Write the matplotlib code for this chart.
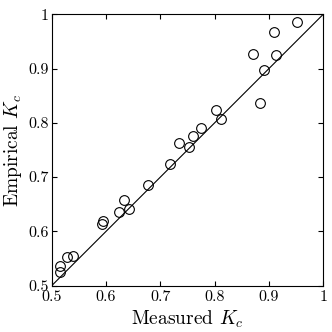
import matplotlib
matplotlib.use("Agg")
import matplotlib.pyplot as plt

measured = [0.951, 0.910, 0.871, 0.913, 0.890, 0.884, 0.803, 0.812, 0.775, 0.760,
            0.735, 0.752, 0.718, 0.678, 0.634, 0.643, 0.623, 0.595, 0.592, 0.540,
            0.528, 0.515, 0.515]
empirical = [0.986, 0.968, 0.926, 0.925, 0.897, 0.836, 0.824, 0.807, 0.790, 0.776,
             0.762, 0.756, 0.725, 0.685, 0.657, 0.641, 0.635, 0.620, 0.614, 0.555,
             0.552, 0.537, 0.526]
ticks = [0.5, 0.6, 0.7, 0.8, 0.9, 1.0]
tick_labels = ["0.5", "0.6", "0.7", "0.8", "0.9", "1"]

plt.rcParams['font.family'] = 'serif'
plt.rcParams['font.serif'] = ['cmr10']
plt.rcParams['mathtext.fontset'] = 'cm'
plt.rcParams['axes.formatter.use_mathtext'] = True

fig = plt.figure(figsize=(3.32, 3.32), dpi=100)
ax = fig.add_axes([0.1557, 0.1395, 0.818, 0.8175])
ax.plot([0.5, 1.0], [0.5, 1.0], color='black', lw=0.8)
ax.plot(measured, empirical, linestyle='none', marker='o', markersize=7.0,
        markerfacecolor='none', markeredgecolor='black', markeredgewidth=0.8)
ax.set_xlim(0.5, 1.0)
ax.set_ylim(0.5, 1.0)
ax.set_xticks(ticks)
ax.set_xticklabels(tick_labels)
ax.set_yticks(ticks)
ax.set_yticklabels(tick_labels)
ax.tick_params(direction='in', top=True, right=True, length=3.6, width=0.8,
               labelsize=11.5, pad=2)
ax.tick_params(axis='x', pad=3.5)
for s in ax.spines.values():
    s.set_linewidth(0.8)
ax.set_xlabel("Measured $K_c$", fontsize=14, labelpad=3)
ax.set_ylabel("Empirical $K_c$", fontsize=14, labelpad=3)
fig.savefig("out.png", dpi=100)
